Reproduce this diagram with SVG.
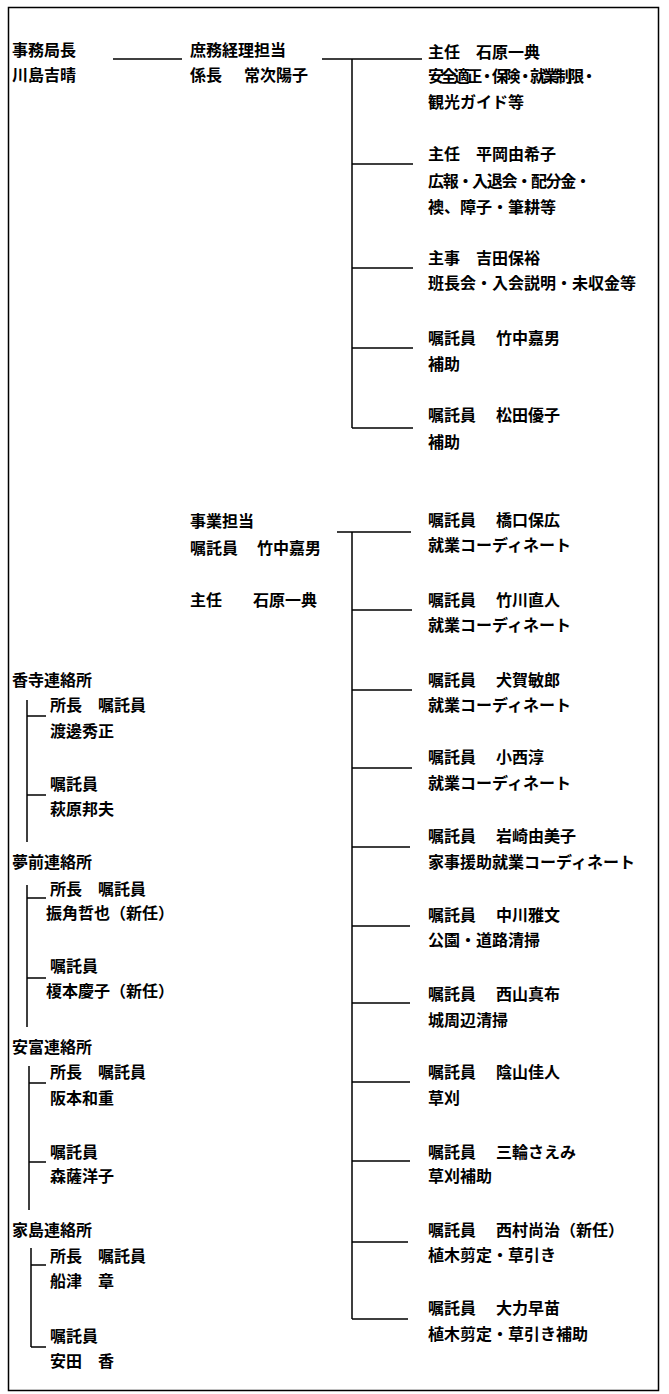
<svg xmlns="http://www.w3.org/2000/svg" width="669" height="1394" viewBox="0 0 669 1394">
<style>
text{font-family:"Noto Sans CJK JP","Noto Sans CJK SC",sans-serif;font-size:16px;font-weight:bold;fill:#000}
.c{stroke:#000;stroke-width:1.5;fill:none}
</style>
<rect x="0" y="0" width="669" height="1394" fill="#fff"/>
<rect x="8.5" y="7.5" width="650" height="1383" fill="none" stroke="#000" stroke-width="1.5"/>
<g id="connectors">
<path class="c" d="M113 59H182"/>
<path class="c" d="M322 59H422M352 59V428M352 164H413M352 268H413M352 348H413M352 428H413"/>
<path class="c" d="M337 532H411M352 532V1319M352 610H412M352 690H412M352 768H412M352 847H410M352 926H410M352 1003H410M352 1082H410M352 1161H410M352 1242H408M352 1319H408"/>
<path class="c" d="M27 700V842M27 716H46M27 795H46"/>
<path class="c" d="M27 885V1027M27 898H46M27 978H46"/>
<path class="c" d="M29 1066V1210M29 1083H46M29 1162H46"/>
<path class="c" d="M31 1248V1347M31 1265H46M31 1347H46"/>
</g>
<g id="n-jimukyokucho"><text x="12" y="56">事務局長</text><text x="12" y="81">川島吉晴</text></g>
<g id="n-shomu"><text x="190" y="56">庶務経理担当</text><text x="190" y="81">係長<tspan x="244">常次陽子</tspan></text></g>
<g id="n-ishihara"><text x="428" y="58">主任　石原一典</text><text x="428" y="82" textLength="169" lengthAdjust="spacing">安全適正・保険・就業制限・</text><text x="428" y="108">観光ガイド等</text></g>
<g id="n-hiraoka"><text x="428" y="160">主任　平岡由希子</text><text x="428" y="187" textLength="163" lengthAdjust="spacing">広報・入退会・配分金・</text><text x="428" y="213">襖、障子・筆耕等</text></g>
<g id="n-yoshida"><text x="428" y="264">主事　吉田保裕</text><text x="428" y="289">班長会・入会説明・未収金等</text></g>
<g id="n-takenaka1"><text x="428" y="344">嘱託員<tspan x="496">竹中嘉男</tspan></text><text x="428" y="370">補助</text></g>
<g id="n-matsuda"><text x="428" y="421">嘱託員<tspan x="496">松田優子</tspan></text><text x="428" y="448">補助</text></g>
<g id="n-jigyo"><text x="190" y="527">事業担当</text><text x="190" y="554">嘱託員<tspan x="257">竹中嘉男</tspan></text><text x="190" y="606">主任<tspan x="253">石原一典</tspan></text></g>
<g id="n-hashiguchi"><text x="428" y="526">嘱託員<tspan x="496">橋口保広</tspan></text><text x="428" y="551">就業コーディネート</text></g>
<g id="n-takekawa"><text x="428" y="606">嘱託員<tspan x="496">竹川直人</tspan></text><text x="428" y="631">就業コーディネート</text></g>
<g id="n-inuga"><text x="428" y="686">嘱託員<tspan x="496">犬賀敏郎</tspan></text><text x="428" y="711">就業コーディネート</text></g>
<g id="n-konishi"><text x="428" y="763">嘱託員<tspan x="496">小西淳</tspan></text><text x="428" y="789">就業コーディネート</text></g>
<g id="n-iwasaki"><text x="428" y="842">嘱託員<tspan x="496">岩崎由美子</tspan></text><text x="428" y="868">家事援助就業コーディネート</text></g>
<g id="n-nakagawa"><text x="428" y="921">嘱託員<tspan x="496">中川雅文</tspan></text><text x="428" y="946">公園・道路清掃</text></g>
<g id="n-nishiyama"><text x="428" y="1000">嘱託員<tspan x="496">西山真布</tspan></text><text x="428" y="1026">城周辺清掃</text></g>
<g id="n-kageyama"><text x="428" y="1078">嘱託員<tspan x="496">陰山佳人</tspan></text><text x="428" y="1104">草刈</text></g>
<g id="n-miwa"><text x="428" y="1158">嘱託員<tspan x="496">三輪さえみ</tspan></text><text x="428" y="1182">草刈補助</text></g>
<g id="n-nishimura"><text x="428" y="1236">嘱託員<tspan x="496">西村尚治（新任）</tspan></text><text x="428" y="1261">植木剪定・草引き</text></g>
<g id="n-dairiki"><text x="428" y="1314">嘱託員<tspan x="496">大力早苗</tspan></text><text x="428" y="1340">植木剪定・草引き補助</text></g>
<g id="n-koudera"><text x="12" y="686">香寺連絡所</text></g>
<g id="n-koudera-1"><text x="50" y="711">所長　嘱託員</text><text x="50" y="737">渡邊秀正</text></g>
<g id="n-koudera-2"><text x="50" y="790">嘱託員</text><text x="50" y="815">萩原邦夫</text></g>
<g id="n-yumesaki"><text x="12" y="868">夢前連絡所</text></g>
<g id="n-yumesaki-1"><text x="50" y="895">所長　嘱託員</text><text x="46" y="919">振角哲也（新任）</text></g>
<g id="n-yumesaki-2"><text x="50" y="972">嘱託員</text><text x="46" y="997">榎本慶子（新任）</text></g>
<g id="n-yasutomi"><text x="12" y="1053">安富連絡所</text></g>
<g id="n-yasutomi-1"><text x="50" y="1078">所長　嘱託員</text><text x="50" y="1104">阪本和重</text></g>
<g id="n-yasutomi-2"><text x="50" y="1158">嘱託員</text><text x="50" y="1182">森薩洋子</text></g>
<g id="n-ieshima"><text x="12" y="1236">家島連絡所</text></g>
<g id="n-ieshima-1"><text x="50" y="1262">所長　嘱託員</text><text x="50" y="1287">船津　章</text></g>
<g id="n-ieshima-2"><text x="50" y="1342">嘱託員</text><text x="50" y="1367">安田　香</text></g>
</svg>
